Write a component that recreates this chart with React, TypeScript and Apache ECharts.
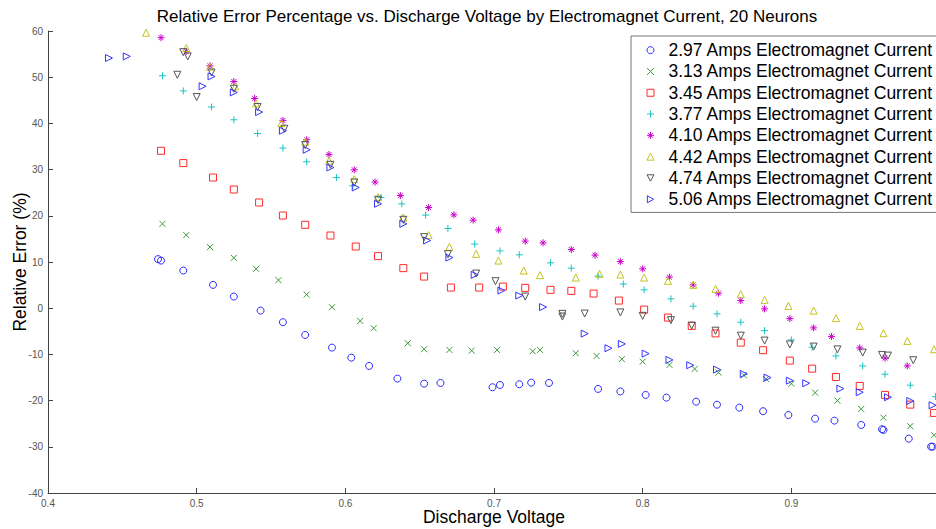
import React, { useEffect, useRef } from "react";
import * as echarts from "echarts";

const titleText =
  "Relative Error Percentage vs. Discharge Voltage by Electromagnet Current, 20 Neurons";
const xAxisName = "Discharge Voltage";
const yAxisName = "Relative Error (%)";

const seriesNames = [
  "2.97 Amps Electromagnet Current",
  "3.13 Amps Electromagnet Current",
  "3.45 Amps Electromagnet Current",
  "3.77 Amps Electromagnet Current",
  "4.10 Amps Electromagnet Current",
  "4.42 Amps Electromagnet Current",
  "4.74 Amps Electromagnet Current",
  "5.06 Amps Electromagnet Current",
];

const s297: [number, number][] = [
  [0.474, 10.62], [0.476, 10.31], [0.491, 8.15], [0.511, 5.05], [0.525, 2.52], [0.543, -0.52],
  [0.558, -3.03], [0.573, -5.78], [0.591, -8.53], [0.604, -10.7], [0.616, -12.49], [0.635, -15.24],
  [0.653, -16.33], [0.664, -16.18], [0.699, -17.11], [0.704, -16.61], [0.717, -16.46], [0.725, -16.11],
  [0.737, -16.18], [0.77, -17.47], [0.785, -18.02], [0.802, -18.77], [0.816, -19.36], [0.836, -20.23],
  [0.85, -20.88], [0.865, -21.52], [0.881, -22.3], [0.898, -23.11], [0.916, -23.91], [0.929, -24.34],
  [0.947, -25.27], [0.961, -26.2], [0.962, -26.35], [0.979, -28.24], [0.994, -29.97], [0.995, -29.97],
];
const s313: [number, number][] = [
  [0.477, 18.26], [0.493, 15.82], [0.509, 13.22], [0.525, 10.9], [0.54, 8.52], [0.555, 6.07],
  [0.574, 2.95], [0.591, 0.22], [0.61, -2.75], [0.619, -4.33], [0.642, -7.58], [0.653, -8.88],
  [0.67, -9.03], [0.685, -9.18], [0.702, -9.03], [0.726, -9.31], [0.731, -9.03], [0.755, -9.74],
  [0.769, -10.33], [0.786, -11.02], [0.8, -11.56], [0.818, -12.28], [0.835, -13.14], [0.851, -13.94],
  [0.868, -14.51], [0.883, -15.31], [0.9, -16.33], [0.916, -18.28], [0.931, -20.01], [0.947, -21.81],
  [0.962, -23.69], [0.98, -25.55], [0.996, -27.5],
];
const s345: [number, number][] = [
  [0.476, 34.07], [0.491, 31.41], [0.511, 28.29], [0.525, 25.69], [0.542, 22.88], [0.558, 20.06],
  [0.573, 18.05], [0.59, 15.73], [0.607, 13.35], [0.622, 11.27], [0.639, 8.67], [0.653, 6.85],
  [0.671, 4.47], [0.69, 4.47], [0.706, 4.68], [0.721, 4.4], [0.738, 3.97], [0.752, 3.75],
  [0.767, 3.17], [0.784, 1.65], [0.801, -0.3], [0.817, -2.03], [0.833, -3.83], [0.849, -5.45],
  [0.866, -7.45], [0.881, -9.09], [0.899, -11.34], [0.914, -13.08], [0.93, -14.88], [0.946, -16.82],
  [0.963, -18.77], [0.98, -20.87], [0.996, -22.67],
];
const s377: [number, number][] = [
  [0.477, 50.32], [0.491, 47.03], [0.51, 43.54], [0.525, 40.79], [0.541, 37.82], [0.558, 34.66],
  [0.574, 31.69], [0.594, 28.29], [0.605, 26.49], [0.624, 23.96], [0.638, 22.59], [0.654, 20.15],
  [0.669, 17.25], [0.687, 13.87], [0.704, 12.41], [0.717, 11.55], [0.738, 9.82], [0.752, 8.67],
  [0.77, 6.94], [0.787, 5.22], [0.801, 3.97], [0.819, 2.02], [0.834, 0.44], [0.85, -1.23],
  [0.866, -3.03], [0.882, -4.85], [0.9, -6.86], [0.914, -8.44], [0.93, -10.33], [0.948, -12.49],
  [0.963, -14.29], [0.98, -16.67], [0.997, -19.14],
];
const s410: [number, number][] = [
  [0.476, 58.55], [0.493, 55.58], [0.509, 52.48], [0.525, 49.06], [0.539, 45.4], [0.558, 40.64],
  [0.574, 36.46], [0.589, 33.27], [0.606, 29.96], [0.62, 27.3], [0.637, 24.39], [0.656, 21.79],
  [0.673, 20.21], [0.686, 19.06], [0.703, 16.96], [0.721, 14.52], [0.733, 14.15], [0.752, 12.7],
  [0.768, 11.48], [0.785, 10.1], [0.8, 8.52], [0.818, 6.72], [0.834, 5.05], [0.851, 3.25],
  [0.866, 1.65], [0.882, -0.15], [0.899, -2.25], [0.915, -4.26], [0.927, -6.15], [0.946, -8.59],
  [0.963, -10.82], [0.978, -12.49],
];
const s442: [number, number][] = [
  [0.466, 59.63], [0.493, 56.32], [0.509, 52.27], [0.526, 48.0], [0.54, 44.32], [0.557, 40.07],
  [0.573, 36.02], [0.589, 31.91], [0.606, 27.94], [0.622, 24.05], [0.639, 19.63], [0.656, 15.82],
  [0.67, 13.28], [0.688, 11.76], [0.703, 10.31], [0.72, 8.15], [0.731, 7.15], [0.755, 6.63],
  [0.771, 7.43], [0.785, 7.28], [0.801, 6.63], [0.817, 5.92], [0.834, 5.05], [0.849, 4.18],
  [0.866, 3.04], [0.882, 1.8], [0.898, 0.5], [0.915, -0.52], [0.93, -2.16], [0.946, -3.83],
  [0.962, -5.41], [0.978, -7.08], [0.996, -8.88],
];
const s474: [number, number][] = [
  [0.487, 50.53], [0.491, 55.41], [0.494, 54.5], [0.5, 45.7], [0.51, 51.01], [0.525, 47.5],
  [0.541, 43.54], [0.559, 38.84], [0.573, 35.31], [0.59, 31.04], [0.606, 27.21], [0.622, 23.46],
  [0.639, 19.13], [0.653, 15.38], [0.669, 11.7], [0.688, 7.5], [0.701, 5.85], [0.721, 2.52],
  [0.746, -1.23], [0.746, -1.81], [0.761, -1.16], [0.785, -0.91], [0.8, -1.66], [0.819, -2.59],
  [0.833, -3.76], [0.849, -4.87], [0.866, -5.95], [0.882, -7.01], [0.899, -7.84], [0.915, -8.31],
  [0.931, -8.92], [0.948, -9.61], [0.961, -10.11], [0.965, -10.26], [0.982, -11.26],
];
const s506: [number, number][] = [
  [0.441, 54.15], [0.453, 54.5], [0.504, 48.04], [0.51, 50.17], [0.525, 46.7], [0.542, 42.46],
  [0.558, 38.41], [0.574, 34.29], [0.59, 30.46], [0.607, 26.13], [0.622, 22.6], [0.639, 18.26],
  [0.655, 14.65], [0.67, 10.96], [0.687, 7.22], [0.705, 3.82], [0.717, 2.73], [0.733, 0.24],
  [0.761, -5.5], [0.777, -8.66], [0.786, -7.73], [0.802, -9.83], [0.818, -11.19], [0.832, -12.34],
  [0.85, -13.29], [0.868, -14.23], [0.884, -15.03], [0.899, -15.68], [0.91, -16.24], [0.933, -17.41],
  [0.946, -18.19], [0.965, -19.27], [0.98, -20.07], [0.995, -21.0],
];

const allData = [s297, s313, s345, s377, s410, s442, s474, s506];

const colors = ["#2a2aff", "#3a9a3a", "#ff2a2a", "#1cc4c4", "#cc00cc", "#c4c41c", "#555555", "#3333ff"];
const symbols = [
  "circle",
  "path://M0,0L10,10M10,0L0,10",
  "rect",
  "path://M5,0L5,10M0,5L10,5",
  "path://M5,0L5,10M0,5L10,5M1.5,1.5L8.5,8.5M8.5,1.5L1.5,8.5",
  "triangle",
  "path://M0,0L10,0L5,9Z",
  "path://M0,0L9,5L0,10Z",
];
const symbolSizes = [7, 6, 7, 7, 7, 7, 7, 7];

const FONT = "'Liberation Sans', Arial, Helvetica, sans-serif";

export default function App() {
  const ref = useRef<HTMLDivElement>(null);
  useEffect(() => {
    const chart = echarts.init(ref.current!, null, { renderer: "svg" });
    const option = {
      animation: false,
      backgroundColor: "#ffffff",
      title: {
        text: titleText,
        left: 487,
        top: 8,
        padding: 0,
        textAlign: "center",
        textStyle: { fontFamily: FONT, fontSize: 17, fontWeight: "normal", color: "#000" },
      },
      legend: {
        orient: "vertical",
        left: 631,
        top: 36,
        padding: [3.5, 12, 2.5, 15.5],
        itemGap: 0,
        itemWidth: 7,
        itemHeight: 7,
        symbolKeepAspect: true,
        borderColor: "#777",
        borderWidth: 1,
        backgroundColor: "#fff",
        selectedMode: false,
        itemStyle: { borderWidth: 1 },
        textStyle: {
          fontFamily: FONT,
          fontSize: 17.5,
          color: "#000",
          lineHeight: 21.3,
          padding: [0, 0, 0, 9.5],
        },
        data: seriesNames.map((n, i) => ({
          name: n,
          icon: symbols[i],
          itemStyle: {
            color: "rgba(255,255,255,0)",
            borderColor: colors[i],
            borderWidth: 1,
          },
        })),
      },
      grid: {
        left: 48,
        top: 31,
        width: 892,
        height: 462,
        containLabel: false,
        outerBoundsMode: "none",
      },
      xAxis: {
        type: "value",
        min: 0.4,
        max: 1.0,
        interval: 0.1,
        name: xAxisName,
        nameLocation: "middle",
        nameGap: 15,
        nameMoveOverlap: false,
        nameTextStyle: { fontFamily: FONT, fontSize: 17.5, color: "#000" },
        axisLine: { show: true, onZero: false, lineStyle: { color: "#444", width: 1 } },
        axisTick: { show: true, inside: true, length: 5, lineStyle: { color: "#444" } },
        axisLabel: {
          margin: 5,
          fontFamily: FONT,
          fontSize: 10,
          color: "#555",
          hideOverlap: false,
          formatter: (v: number) => (v > 0.95 ? "" : v.toFixed(1)),
        },
        splitLine: { show: false },
      },
      yAxis: {
        type: "value",
        min: -40,
        max: 60,
        interval: 10,
        name: yAxisName,
        nameLocation: "middle",
        nameGap: 19,
        nameMoveOverlap: false,
        nameTextStyle: { fontFamily: FONT, fontSize: 17.5, color: "#000" },
        axisLine: { show: true, onZero: false, lineStyle: { color: "#444", width: 1 } },
        axisTick: { show: true, inside: true, length: 5, lineStyle: { color: "#444" } },
        axisLabel: {
          margin: 5,
          fontFamily: FONT,
          fontSize: 10,
          color: "#555",
        },
        splitLine: { show: false },
      },
      series: allData.map((d, i) => ({
        name: seriesNames[i],
        type: "scatter",
        data: d,
        symbol: symbols[i],
        symbolSize: symbolSizes[i],
        silent: true,
        itemStyle: { color: "rgba(255,255,255,0)", borderColor: colors[i], borderWidth: 1, opacity: 1 },
        emphasis: { disabled: true },
      })),
    };
    chart.setOption(option as any);
    return () => chart.dispose();
  }, []);
  return (
    <div
      ref={ref}
      style={{ position: "fixed", left: 0, top: 0, width: 936, height: 529, background: "#fff" }}
    />
  );
}
